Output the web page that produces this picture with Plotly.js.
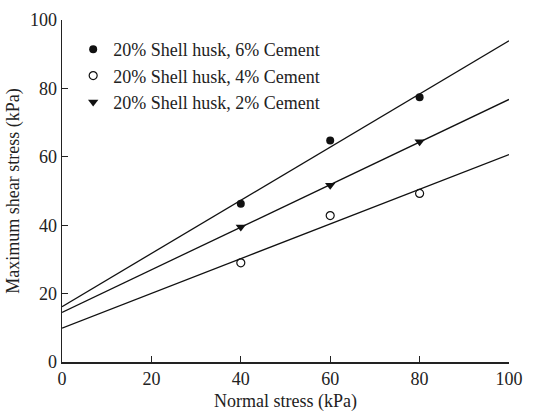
<!DOCTYPE html>
<html>
<head>
<meta charset="utf-8">
<script src="https://cdn.plot.ly/plotly-3.0.1.min.js"></script>
<style>html,body{margin:0;padding:0;background:#fff;}#chart{width:547px;height:412px;}</style>
</head>
<body>
<div id="chart"></div>
<script>
// Data
const normalStress = [40, 60, 80];
const seriesNames = ["20% Shell husk, 6% Cement", "20% Shell husk, 4% Cement", "20% Shell husk, 2% Cement"];
const shear6 = [46.3, 64.8, 77.4];
const shear4 = [29.0, 42.8, 49.3];
const shear2 = [39.5, 51.7, 64.4];
const fitRange = [0, 100];
const xTicks = [0, 20, 40, 60, 80, 100];
const yTicks = [0, 20, 40, 60, 80, 100];

function linfit(xs, ys) {
  const n = xs.length;
  const mx = xs.reduce((a, b) => a + b, 0) / n;
  const my = ys.reduce((a, b) => a + b, 0) / n;
  let sxy = 0, sxx = 0;
  for (let i = 0; i < n; i++) { sxy += (xs[i] - mx) * (ys[i] - my); sxx += (xs[i] - mx) ** 2; }
  const b = sxy / sxx, a = my - b * mx;
  return fitRange.map(x => a + b * x);
}

const font = {family: "Liberation Serif, Times New Roman, serif", size: 18, color: "#222"};
const markerDefs = [
  {symbol: "circle", size: 8, color: "#111", line: {width: 0}},
  {symbol: "circle-open", size: 8, color: "#111", line: {width: 1.2}},
  {symbol: "triangle-down", size: 9, color: "#111", line: {width: 0}}
];
const allY = [shear6, shear4, shear2];

const traces = [];
allY.forEach((ys, i) => {
  traces.push({x: fitRange, y: linfit(normalStress, ys), mode: "lines", line: {color: "#111", width: 1.3}, showlegend: false, hoverinfo: "skip"});
});
allY.forEach((ys, i) => {
  traces.push({x: normalStress, y: ys, mode: "markers", name: seriesNames[i], marker: markerDefs[i]});
});

const layout = {
  width: 547, height: 412,
  margin: {l: 62, r: 38, t: 20, b: 50},
  paper_bgcolor: "#fff", plot_bgcolor: "#fff",
  font: font,
  showlegend: true,
  legend: {x: 0.025, y: 0.968, xanchor: "left", yanchor: "top", bgcolor: "rgba(0,0,0,0)", font: font, tracegroupgap: 0},
  xaxis: {
    range: [0, 100], tickvals: xTicks, ticks: "inside", ticklen: 6, tickwidth: 1.2, tickcolor: "#222",
    showline: true, linecolor: "#222", linewidth: 1.5, showgrid: false, zeroline: false,
    title: {text: "Normal stress (kPa)", font: font, standoff: 8},
    tickfont: font
  },
  yaxis: {
    range: [0, 100], tickvals: yTicks, ticks: "inside", ticklen: 6, tickwidth: 1.2, tickcolor: "#222",
    showline: true, linecolor: "#222", linewidth: 1.5, showgrid: false, zeroline: false,
    title: {text: "Maximum shear stress (kPa)", font: font, standoff: 5},
    tickfont: font
  }
};

Plotly.newPlot("chart", traces, layout, {staticPlot: true, displayModeBar: false});
</script>
</body>
</html>
